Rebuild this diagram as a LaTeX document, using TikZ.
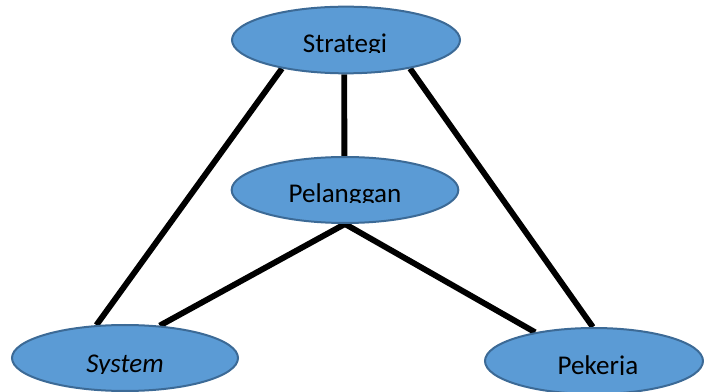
\documentclass[tikz,border=0pt]{standalone}
\usepackage{fontspec}
\setmainfont{Carlito}
\usetikzlibrary{shapes.geometric,backgrounds}
\definecolor{ellfill}{HTML}{5B9BD5}
\definecolor{elldraw}{HTML}{3C6A96}
\begin{document}
\begin{tikzpicture}[x=0.75pt,y=-0.75pt,
  ell/.style={ellipse, draw=elldraw, fill=ellfill, line width=1.5pt, inner sep=0pt},
  lbl/.style={anchor=base, inner sep=0pt, font=\fontsize{20.3}{24}\selectfont},
  link/.style={line width=4.4pt, black}]
\useasboundingbox (0,0) rectangle (704,392);
\node[ell, minimum width=171pt, minimum height=50pt] (st) at (346,40) {};
\node[ell, minimum width=170pt, minimum height=49.5pt] (pl) at (345,190) {};
\node[ell, minimum width=169.5pt, minimum height=49.5pt] (sy) at (125,358) {};
\node[ell, minimum width=163.5pt, minimum height=49.5pt] (pk) at (594,361) {};
\begin{scope}[on background layer]
  \draw[link] (st.204) -- (sy.131);
  \draw[link] (st.267) -- (pl.91);
  \draw[link] (st.336) -- (pk.92);
  \draw[link] (pl.270) -- (sy.43);
  \draw[link] (pl.270) -- (pk.154);
\end{scope}
\begin{scope}
  \clip (245,13) rectangle (445,53);
  \node[lbl] (tst) at (345,53) {Strategi};
\end{scope}
\begin{scope}
  \clip (245,163) rectangle (445,203);
  \node[lbl] (tpl) at (345,203) {Pelanggan};
\end{scope}
\begin{scope}
  \clip (25,333) rectangle (225,373);
  \node[lbl] (tsy) at (125,373) {\itshape System};
\end{scope}
\begin{scope}
  \clip (498,334) rectangle (698,374);
  \node[lbl] (tpk) at (598,374) {Pekerja};
\end{scope}
\end{tikzpicture}
\end{document}
